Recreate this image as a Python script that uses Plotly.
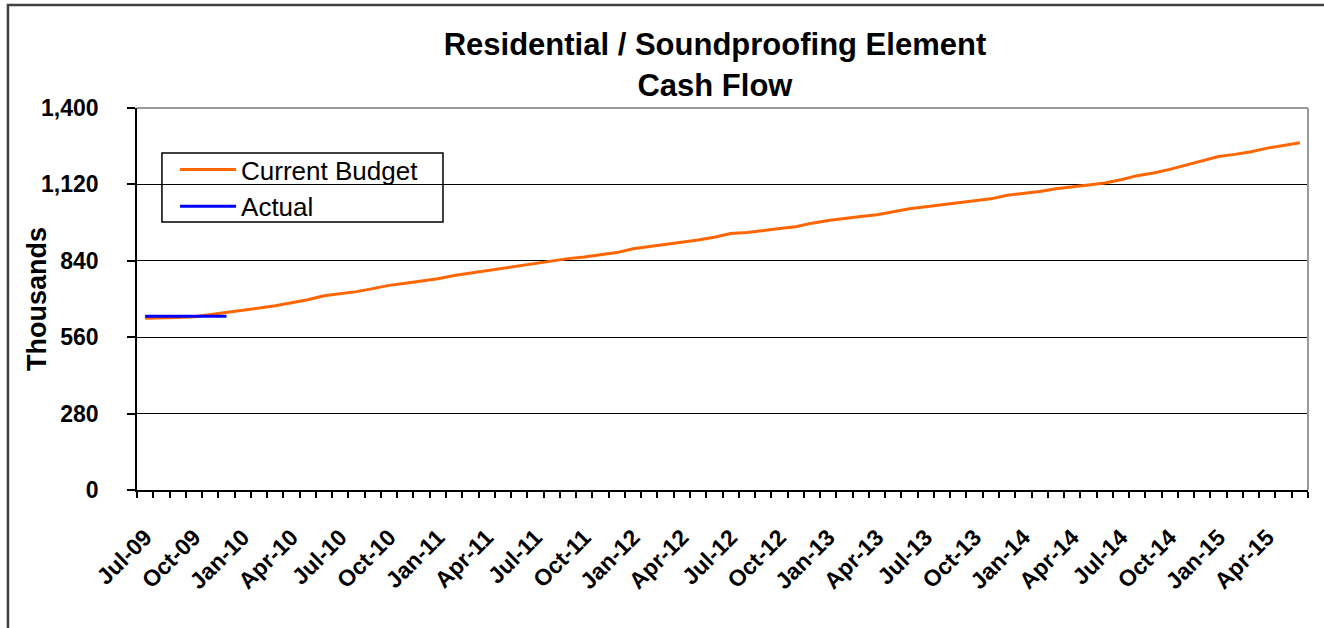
import plotly.graph_objects as go

# Monthly categories, Jul-09 .. Jun-15
months = ["Jul-09", "Aug-09", "Sep-09", "Oct-09", "Nov-09", "Dec-09",
          "Jan-10", "Feb-10", "Mar-10", "Apr-10", "May-10", "Jun-10",
          "Jul-10", "Aug-10", "Sep-10", "Oct-10", "Nov-10", "Dec-10",
          "Jan-11", "Feb-11", "Mar-11", "Apr-11", "May-11", "Jun-11",
          "Jul-11", "Aug-11", "Sep-11", "Oct-11", "Nov-11", "Dec-11",
          "Jan-12", "Feb-12", "Mar-12", "Apr-12", "May-12", "Jun-12",
          "Jul-12", "Aug-12", "Sep-12", "Oct-12", "Nov-12", "Dec-12",
          "Jan-13", "Feb-13", "Mar-13", "Apr-13", "May-13", "Jun-13",
          "Jul-13", "Aug-13", "Sep-13", "Oct-13", "Nov-13", "Dec-13",
          "Jan-14", "Feb-14", "Mar-14", "Apr-14", "May-14", "Jun-14",
          "Jul-14", "Aug-14", "Sep-14", "Oct-14", "Nov-14", "Dec-14",
          "Jan-15", "Feb-15", "Mar-15", "Apr-15", "May-15", "Jun-15"]

# Thousands
current_budget = [629, 630, 632, 635, 643, 652, 660, 667, 675, 686, 697, 712,
                  720, 727, 738, 750, 758, 766, 774, 786, 795, 803, 812, 820,
                  830, 840, 848, 854, 862, 870, 884, 892, 900, 907, 916, 926,
                  940, 944, 950, 958, 965, 978, 988, 994, 1002, 1009, 1020, 1031,
                  1038, 1045, 1052, 1060, 1067, 1080, 1087, 1094, 1104, 1112, 1118, 1125,
                  1137, 1152, 1162, 1175, 1190, 1205, 1222, 1230, 1240, 1253, 1264, 1273]
actual = [637, 637, 637, 637, 637, 637]

y_ticks = [0, 280, 560, 840, 1120, 1400]

x_idx = list(range(len(months)))
label_idx = x_idx[::3]
label_txt = months[::3]

fig = go.Figure()
fig.add_trace(go.Scatter(x=x_idx, y=current_budget, mode="lines", name="Current Budget",
                         line=dict(color="#FF6600", width=3)))
fig.add_trace(go.Scatter(x=x_idx[:len(actual)], y=actual, mode="lines", name="Actual",
                         line=dict(color="#0000FF", width=3)))

font = "Liberation Sans, Arial, sans-serif"

fig.update_layout({
    "width": 1324, "height": 628,
    "margin": {"l": 137, "r": 16, "t": 108, "b": 138},
    "paper_bgcolor": "white", "plot_bgcolor": "white",
    "font": {"family": font, "color": "black"},
    "title": {"text": "<b>Residential / Soundproofing Element<br>Cash Flow</b>",
              "font": {"size": 31, "family": font},
              "x": 0.54, "xanchor": "center", "xref": "container",
              "y": 0.912, "yanchor": "top"},
    "showlegend": True,
    "legend": {"x": 0.0325, "y": 0.9005, "xanchor": "left", "yanchor": "top",
               "bgcolor": "rgba(0,0,0,0)", "borderwidth": 0,
               "font": {"size": 26, "family": font},
               "tracegroupgap": 0, "itemwidth": 56},
    "xaxis": {"range": [-0.5, len(months) - 0.5],
              "tickmode": "array", "tickvals": label_idx, "ticktext": label_txt,
              "tickangle": -45, "ticks": "outside", "ticklen": 6,
              "tickcolor": "rgba(0,0,0,0)",
              "tickfont": {"size": 23, "family": font, "weight": "bold"},
              "ticklabelstandoff": 17,
              "minor": {"tick0": -0.5, "dtick": 1, "ticks": "outside",
                        "ticklen": 6, "tickcolor": "black", "tickwidth": 1.5},
              "showline": True, "linecolor": "black", "linewidth": 1.5,
              "showgrid": False, "zeroline": False},
    "yaxis": {"range": [0, 1400], "tickmode": "array", "tickvals": y_ticks,
              "tickformat": ",", "ticks": "outside", "ticklen": 8,
              "tickcolor": "black", "tickwidth": 1.5,
              "tickfont": {"size": 23, "family": font, "weight": "bold"},
              "ticklabelstandoff": 24,
              "showline": True, "linecolor": "black", "linewidth": 1.5,
              "showgrid": True, "gridcolor": "black", "gridwidth": 1,
              "zeroline": False},
})

# y axis title
fig.add_annotation(text="<b>Thousands</b>", textangle=-90, showarrow=False,
                   xref="paper", yref="paper", x=-0.0854, y=0.5,
                   xanchor="center", yanchor="middle",
                   font=dict(size=27, family=font))

# legend frame
fig.add_shape(type="rect", xref="paper", yref="paper",
              x0=0.0213, x1=0.2613, y0=0.7016, y1=0.8822,
              line=dict(color="black", width=1.5), fillcolor="white", layer="below")

# plot area border (top / right) and outer chart border
fig.add_shape(type="line", xref="paper", yref="paper", x0=0, x1=1, y0=1, y1=1,
              line=dict(color="#9a9a9a", width=2), layer="above")
fig.add_shape(type="line", xref="paper", yref="paper", x0=1, x1=1, y0=0, y1=1,
              line=dict(color="#9a9a9a", width=2), layer="above")
fig.add_shape(type="rect", xref="paper", yref="paper",
              x0=-0.1102, x1=1.03, y0=-0.45, y1=1.2696,
              line=dict(color="#404040", width=2.5), layer="above")

fig.write_html("out.html", config={"displayModeBar": False},
               post_script="document.body.style.margin='0';")
